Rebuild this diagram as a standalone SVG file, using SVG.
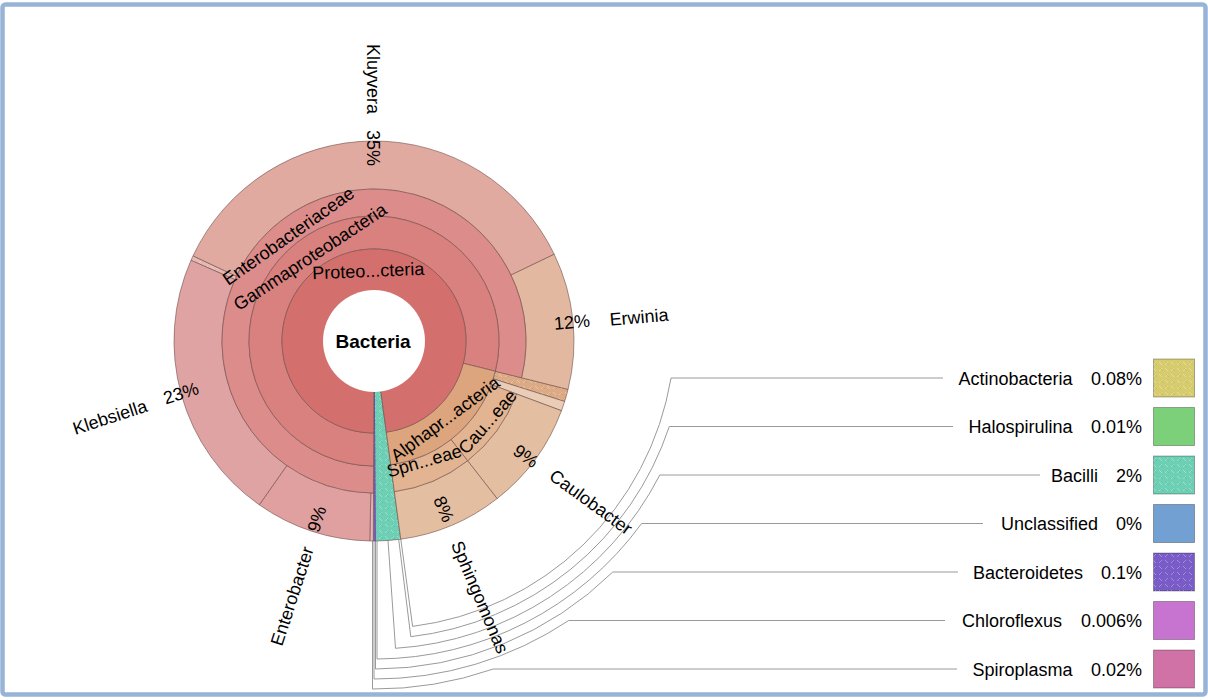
<svg xmlns="http://www.w3.org/2000/svg" width="1208" height="700" viewBox="0 0 1208 700">
<defs>
<pattern id="hatch" width="12" height="12" patternUnits="userSpaceOnUse">
<path d="M1 5 L4 2 M7 11 L10 8 M7 2 L10 5 M1 8 L4 11" stroke="#ffffff" stroke-opacity="0.4" stroke-width="0.8" fill="none"/>
<path d="M2 2 L5 5 M8 8 L11 11" stroke="#000000" stroke-opacity="0.1" stroke-width="0.7" fill="none"/>
</pattern>
<style>
text{font-family:"Liberation Sans",Arial,sans-serif;font-size:18px;fill:#000}
.c{text-anchor:middle}
.w{stroke:#6e4b48;stroke-opacity:0.75;stroke-width:0.8}
.h{fill:url(#hatch);stroke:none}
.lead{fill:none;stroke:#9a9a9a;stroke-width:1}
.sw{stroke:#000;stroke-opacity:0.3;stroke-width:1}
.e{text-anchor:end}
</style>
</defs>
<rect x="2.5" y="4.5" width="1203" height="690" rx="3" fill="#ffffff" stroke="#97b3d6" stroke-width="4.5"/>

<g id="connectors">
<path class="lead" d="M400.8 539.2 L412.6 626.4 A300 300 0 0 0 671 378 L943 378"/>
<path class="lead" d="M398.7 539.5 L410.8 636.7 A310 310 0 0 0 669.3 426.5 L953 426.5"/>
<path class="lead" d="M388 540.5 L395.5 648.3 A320 320 0 0 0 659.8 475 L1040 475"/>
<path class="lead" d="M377 541 L377 659 A330 330 0 0 0 641.6 523.5 L983 523.5"/>
<path class="lead" d="M375.5 541 L375.5 669 A340 340 0 0 0 612.8 572 L958 572"/>
<path class="lead" d="M374 541 L374 679 A350 350 0 0 0 568.7 620.5 L945 620.5"/>
<path class="lead" d="M372.5 541 L372.5 689 A360 360 0 0 0 493.3 669 L957 669"/>
</g>

<g id="node-bacilli">
<path class="w" fill="#6dcfb3" d="M400.80 539.20 A200 200 0 0 1 375.40 541 L374.35 391 A50 50 0 0 0 380.70 390.55 Z"/>
<path class="h" d="M400.80 539.20 A200 200 0 0 1 375.40 541 L374.35 391 A50 50 0 0 0 380.70 390.55 Z"/>
</g>
<g id="node-bacteroidetes">
<path fill="#7a5cc8" stroke="#5a3fa0" stroke-width="0.6" d="M375.40 541 A200 200 0 0 1 373.30 541 L373.83 391 A50 50 0 0 0 374.35 391 Z"/>
</g>

<g id="node-alpha-other">
<path class="w" fill="#dcab85" d="M568.06 389.38 A200 200 0 0 1 564.64 401.47 L493.15 378.80 A125 125 0 0 0 495.29 371.24 Z"/>
<path class="h" d="M568.06 389.38 A200 200 0 0 1 564.64 401.47 L493.15 378.80 A125 125 0 0 0 495.29 371.24 Z"/>
<path class="w" fill="#eacdb6" d="M564.64 401.47 A200 200 0 0 1 561.46 410.71 L491.16 384.57 A125 125 0 0 0 493.15 378.80 Z"/>
</g>
<g id="node-entero-other">
<path class="w" fill="#e8b4b4" d="M373.30 541 A200 200 0 0 1 369.81 540.96 L370.82 492.97 A152 152 0 0 0 373.47 493 Z"/>
<path class="w" fill="#e6b9b4" d="M191.01 260.29 A200 200 0 0 1 193.03 255.84 L236.47 276.28 A152 152 0 0 0 234.93 279.66 Z"/>
<path class="h" d="M191.01 260.29 A200 200 0 0 1 193.03 255.84 L236.47 276.28 A152 152 0 0 0 234.93 279.66 Z"/>
</g>
<g id="node-enterobacter">
<path class="w" fill="#e0a0a0" d="M369.81 540.96 A200 200 0 0 1 259.28 504.83 L286.82 465.51 A152 152 0 0 0 370.82 492.97 Z"/>
<text class="c" dy="0.35em" transform="translate(316.7,519) rotate(-72)">9%</text>
<text class="c" dy="0.35em" transform="translate(292,596) rotate(-72)">Enterobacter</text>
</g>
<g id="node-klebsiella">
<path class="w" fill="#e0a3a3" d="M259.28 504.83 A200 200 0 0 1 191.01 260.29 L234.93 279.66 A152 152 0 0 0 286.82 465.51 Z"/>
<text class="c" dy="0.35em" transform="translate(181,393) rotate(-18)">23%</text>
<text class="c" dy="0.35em" transform="translate(110,417) rotate(-18)">Klebsiella</text>
</g>
<g id="node-kluyvera">
<path class="w" fill="#e0aaa0" d="M193.03 255.84 A200 200 0 0 1 554.22 254.27 L510.96 275.08 A152 152 0 0 0 236.47 276.28 Z"/>
<text class="c" dy="0.35em" transform="translate(373,148) rotate(90)">35%</text>
<text class="c" dy="0.35em" transform="translate(373,79) rotate(90)">Kluyvera</text>
</g>
<g id="node-erwinia">
<path class="w" fill="#e2b9a0" d="M554.22 254.27 A200 200 0 0 1 568.06 389.38 L521.49 377.77 A152 152 0 0 0 510.96 275.08 Z"/>
<text class="c" dy="0.35em" transform="translate(572,322) rotate(-5)">12%</text>
<text class="c" dy="0.35em" transform="translate(639,317) rotate(-5)">Erwinia</text>
</g>
<g id="node-caulobacter">
<path class="w" fill="#e4bea0" d="M561.46 410.71 A200 200 0 0 1 497.13 498.60 L467.58 460.78 A152 152 0 0 0 516.47 393.98 Z"/>
<text class="c" dy="0.35em" transform="translate(526,456) rotate(36)">9%</text>
<text class="c" dy="0.35em" transform="translate(591,502) rotate(36)">Caulobacter</text>
</g>
<g id="node-sphingomonas">
<path class="w" fill="#e4bea0" d="M497.13 498.60 A200 200 0 0 1 400.80 539.20 L394.37 491.63 A152 152 0 0 0 467.58 460.78 Z"/>
<text class="c" dy="0.35em" transform="translate(444,509) rotate(67)">8%</text>
<text class="c" dy="0.35em" transform="translate(480,597) rotate(67)">Sphingomonas</text>
</g>

<g id="node-enterobacteriaceae">
<path class="w" fill="#dc8d8b" d="M373.47 493 A152 152 0 1 1 521.49 377.77 L495.29 371.24 A125 125 0 1 0 373.56 466 Z"/>
<text class="c" dy="0.35em" transform="translate(288.3,235.8) rotate(-35.3)">Enterobacteriaceae</text>
</g>
<g id="node-caulobacteraceae">
<path class="w" fill="#e2b491" d="M516.47 393.98 A152 152 0 0 1 467.58 460.78 L450.96 439.50 A125 125 0 0 0 491.16 384.57 Z"/>
</g>
<g id="node-sphingomonadaceae">
<path class="w" fill="#e2b491" d="M467.58 460.78 A152 152 0 0 1 394.37 491.63 L390.75 464.87 A125 125 0 0 0 450.96 439.50 Z"/>
<text class="c" dy="0.35em" transform="translate(424.2,460.8) rotate(-16)">Sph...eae</text>
</g>
<g id="node-caulobacteraceae-label">
<text class="c" dy="0.35em" transform="translate(487.5,421.7) rotate(-48.9)">Cau...eae</text>
</g>

<g id="node-gammaproteobacteria">
<path class="w" fill="#d8817f" d="M373.56 466 A125 125 0 1 1 495.29 371.24 L463.27 363.26 A92 92 0 1 0 373.68 433 Z"/>
<text class="c" dy="0.35em" transform="translate(310,256.7) rotate(-33.4)">Gammaproteobacteria</text>
</g>
<g id="node-alphaproteobacteria">
<path class="w" fill="#dca57d" d="M495.29 371.24 A125 125 0 0 1 390.75 464.87 L386.33 432.17 A92 92 0 0 0 463.27 363.26 Z"/>
<text class="c" dy="0.35em" transform="translate(445,419) rotate(-36.5)">Alphapr...acteria</text>
</g>

<g id="node-proteobacteria">
<path class="w" fill="#d3706e" d="M373.68 433 A92 92 0 1 1 386.33 432.17 L380.70 390.55 A50 50 0 1 0 373.83 391 Z"/>
<text class="c" dy="0.35em" transform="translate(368.3,270.7) rotate(-2.3)">Proteo...cteria</text>
</g>

<g id="node-bacteria">
<circle cx="374" cy="341" r="51" fill="#ffffff"/>
<text class="c" dy="0.35em" x="373" y="341" style="font-weight:bold;font-size:19px">Bacteria</text>
</g>

<g id="legend-actinobacteria">
<text class="e" x="1072.6" y="384.5">Actinobacteria</text><text class="e" x="1142" y="384.5">0.08%</text>
<rect class="sw" x="1153.5" y="359" width="41" height="38" fill="#d6cc6e"/><rect class="h" x="1153.5" y="359" width="41" height="38"/>
</g>
<g id="legend-halospirulina">
<text class="e" x="1072.6" y="433">Halospirulina</text><text class="e" x="1142" y="433">0.01%</text>
<rect class="sw" x="1153.5" y="407.5" width="41" height="38" fill="#7dd07a"/>
</g>
<g id="legend-bacilli">
<text class="e" x="1098" y="481.5">Bacilli</text><text class="e" x="1142" y="481.5">2%</text>
<rect class="sw" x="1153.5" y="456" width="41" height="38" fill="#6dcfb3"/><rect class="h" x="1153.5" y="456" width="41" height="38"/>
</g>
<g id="legend-unclassified">
<text class="e" x="1098" y="530">Unclassified</text><text class="e" x="1142" y="530">0%</text>
<rect class="sw" x="1153.5" y="504.5" width="41" height="38" fill="#73a0d2"/>
</g>
<g id="legend-bacteroidetes">
<text class="e" x="1083" y="578.5">Bacteroidetes</text><text class="e" x="1142" y="578.5">0.1%</text>
<rect class="sw" x="1153.5" y="553" width="41" height="38" fill="#7a5cc8"/><rect class="h" x="1153.5" y="553" width="41" height="38"/>
</g>
<g id="legend-chloroflexus">
<text class="e" x="1062" y="627">Chloroflexus</text><text class="e" x="1142" y="627">0.006%</text>
<rect class="sw" x="1153.5" y="601.5" width="41" height="38" fill="#c774d0"/>
</g>
<g id="legend-spiroplasma">
<text class="e" x="1072.6" y="675.5">Spiroplasma</text><text class="e" x="1142" y="675.5">0.02%</text>
<rect class="sw" x="1153.5" y="650" width="41" height="38" fill="#d072a5"/>
</g>
</svg>
